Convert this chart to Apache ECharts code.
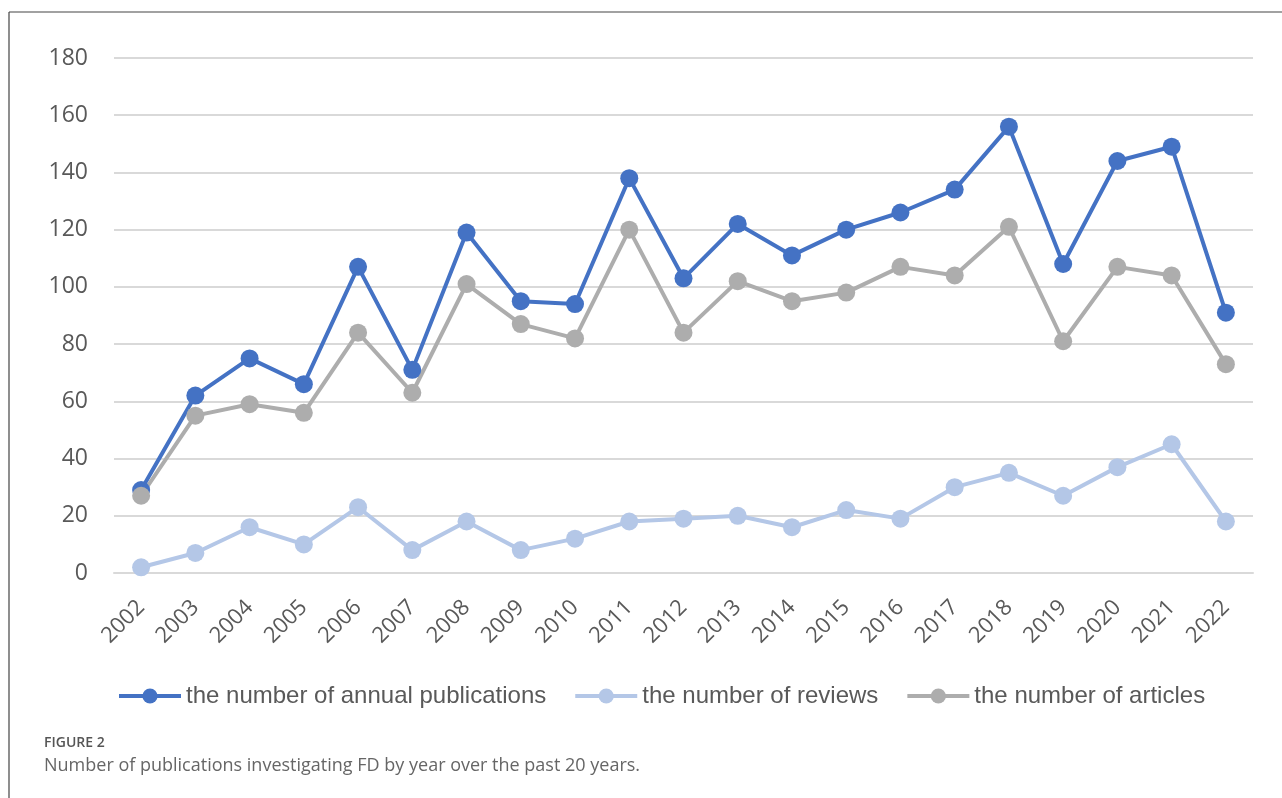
<!DOCTYPE html>
<html>
<head>
<meta charset="utf-8">
<script src="https://cdn.jsdelivr.net/npm/echarts@6/dist/echarts.min.js"></script>
<style>
html,body{margin:0;padding:0;background:#fff;}
#chart{width:1282px;height:798px;}
</style>
</head>
<body>
<div id="chart"></div>
<script>
const years = ['2002','2003','2004','2005','2006','2007','2008','2009','2010','2011','2012','2013','2014','2015','2016','2017','2018','2019','2020','2021','2022'];
const annualPublications = [29,62,75,66,107,71,119,95,94,138,103,122,111,120,126,134,156,108,144,149,91];
const reviews = [2,7,16,10,23,8,18,8,12,18,19,20,16,22,19,30,35,27,37,45,18];
const articles = [27,55,59,56,84,63,101,87,82,120,84,102,95,98,107,104,121,81,107,104,73];
const seriesNames = ['the number of annual publications','the number of reviews','the number of articles'];
const captionTitle = 'FIGURE 2';
const captionText = 'Number of publications investigating FD by year over the past 20 years.';

const chart = echarts.init(document.getElementById('chart'));
function lineSeries(name, data, color){
  return {
    name, type:'line', data,
    symbol:'circle', symbolSize:18,
    lineStyle:{color, width:4},
    itemStyle:{color},
    z: 2
  };
}
chart.setOption({
  animation:false,
  backgroundColor:'#fff',
  grid:{left:114, right:29, top:58, bottom:225, containLabel:false},
  legend:{
    bottom:85, left:112,
    itemWidth:62, itemHeight:19, itemGap:27,
    lineStyle:{width:4},
    textStyle:{fontFamily:'Liberation Sans', fontSize:24, color:'#595959'},
    data:seriesNames
  },
  xAxis:{
    type:'category', data:years, boundaryGap:true,
    axisLine:{show:true, lineStyle:{color:'#D9D9D9', width:2}},
    axisTick:{show:false},
    axisLabel:{rotate:45, margin:31, fontFamily:'Open Sans', fontSize:22, color:'#595959', interval:0}
  },
  yAxis:{
    type:'value', min:0, max:180, interval:20,
    axisLine:{show:false}, axisTick:{show:false},
    splitLine:{lineStyle:{color:'#D9D9D9', width:2}},
    axisLabel:{margin:26, fontFamily:'Open Sans', fontSize:23, color:'#595959'}
  },
  series:[
    lineSeries(seriesNames[0], annualPublications, '#4472C4'),
    lineSeries(seriesNames[1], reviews, '#B4C7E7'),
    lineSeries(seriesNames[2], articles, '#ADADAD')
  ],
  graphic:[
    {type:'line', shape:{x1:9, y1:12, x2:1282, y2:12}, style:{stroke:'#444', lineWidth:1.2}},
    {type:'line', shape:{x1:9, y1:12, x2:9, y2:798}, style:{stroke:'#444', lineWidth:1.2}},
    {type:'text', left:44, top:736, style:{text:captionTitle, fontFamily:'Open Sans', fontSize:14, fontWeight:600, fill:'#555'}},
    {type:'text', left:44, top:757, style:{text:captionText, fontFamily:'Open Sans', fontSize:18, fill:'#666'}}
  ]
});
</script>
</body>
</html>
